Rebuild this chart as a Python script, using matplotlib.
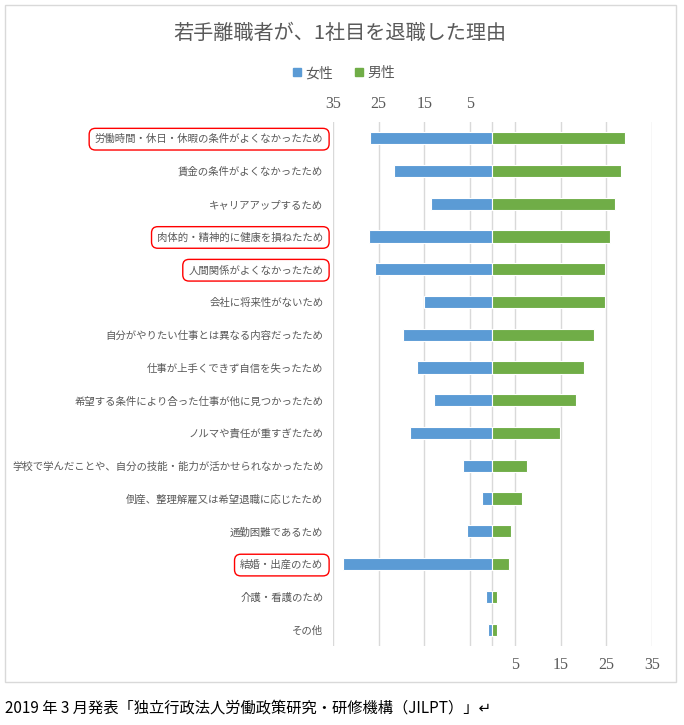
import matplotlib
matplotlib.use("Agg")
import matplotlib.pyplot as plt
from matplotlib.patches import Patch, Rectangle

plt.rcParams['font.family'] = ['Noto Sans CJK JP', 'DejaVu Sans']

# reasons (top to bottom) and percentages
reasons = [
    "労働時間・休日・休暇の条件がよくなかったため",
    "賃金の条件がよくなかったため",
    "キャリアアップするため",
    "肉体的・精神的に健康を損ねたため",
    "人間関係がよくなかったため",
    "会社に将来性がないため",
    "自分がやりたい仕事とは異なる内容だったため",
    "仕事が上手くできず自信を失ったため",
    "希望する条件により合った仕事が他に見つかったため",
    "ノルマや責任が重すぎたため",
    "学校で学んだことや、自分の技能・能力が活かせられなかったため",
    "倒産、整理解雇又は希望退職に応じたため",
    "通勤困難であるため",
    "結婚・出産のため",
    "介護・看護のため",
    "その他",
]
female = [27.0, 21.7, 13.6, 27.2, 25.9, 15.0, 19.6, 16.5,
          12.8, 18.2, 6.4, 2.3, 5.5, 32.9, 1.4, 0.95]
male = [29.0, 28.2, 26.9, 25.8, 24.7, 24.7, 22.3, 20.1,
        18.3, 14.8, 7.6, 6.5, 4.1, 3.6, 1.0, 1.0]
highlighted = [0, 3, 4, 13]

grid_vals = [-35, -25, -15, -5, 0, 5, 15, 25, 35]
bottom_ticks = [5, 15, 25, 35]
top_ticks = [-35, -25, -15, -5]

blue = "#5B9BD5"
green = "#70AD47"
gray_txt = "#595959"

fig = plt.figure(figsize=(6.84, 7.25), dpi=100)
ax = fig.add_axes([0.487, 0.109, 0.466, 0.723])

y = list(range(len(reasons)))
ax.barh(y, [-v for v in female], height=0.37, color=blue, edgecolor="white", linewidth=0.8, zorder=3)
ax.barh(y, male, height=0.37, color=green, edgecolor="white", linewidth=0.8, zorder=3)

ax.set_xlim(-35, 35)
ax.set_ylim(len(reasons) - 0.5, -0.5)

for g in grid_vals:
    ax.axvline(g, color="#d9d9d9", linewidth=1, zorder=1)

ax.set_xticks(bottom_ticks)
ax.set_xticklabels([str(t) for t in bottom_ticks], family="Liberation Serif", fontsize=11.5, color=gray_txt)
ax.tick_params(axis="x", length=0, pad=8)

top = ax.secondary_xaxis("top")
top.set_xticks(top_ticks)
top.set_xticklabels([str(-t) for t in top_ticks], family="Liberation Serif", fontsize=11.5, color=gray_txt)
top.tick_params(length=0, pad=7)
for s in top.spines.values():
    s.set_visible(False)

ax.set_yticks(y)
ax.set_yticklabels(reasons, fontsize=7.5, color=gray_txt)
ax.tick_params(axis="y", length=0, pad=7)
for i, lbl in enumerate(ax.get_yticklabels()):
    if i in highlighted:
        lbl.set_bbox(dict(boxstyle="round,pad=0.55,rounding_size=0.6",
                          ec="red", fc="none", lw=1))

for s in ax.spines.values():
    s.set_visible(False)

fig.text(0.497, 0.954, "若手離職者が、1社目を退職した理由", ha="center", va="center",
         fontsize=14.5, color=gray_txt)

handles = [Patch(color=blue, label="女性"), Patch(color=green, label="男性")]
fig.legend(handles=handles, loc="center", bbox_to_anchor=(0.503, 0.899), ncol=2,
           frameon=False, fontsize=10, labelcolor=gray_txt,
           handlelength=0.55, handleheight=0.55, handletextpad=0.3, columnspacing=1.6)

fig.patches.append(Rectangle((0.0073, 0.0593), 0.981, 0.934, transform=fig.transFigure,
                             fill=False, ec="#d9d9d9", lw=1))

fig.text(0.007, 0.0234, "2019 年 3 月発表「独立行政法人労働政策研究・研修機構（JILPT）」↵",
         ha="left", va="center", fontsize=11, color="black")

fig.savefig("out.png", dpi=100)
